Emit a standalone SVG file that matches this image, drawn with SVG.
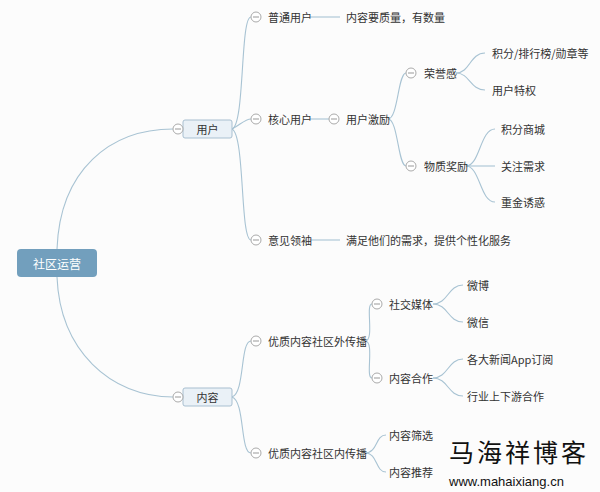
<svg xmlns="http://www.w3.org/2000/svg" width="600" height="492" viewBox="0 0 600 492">
<style>
text{font-family:"Noto Sans CJK SC","Liberation Sans",sans-serif;font-size:11px;fill:#333;dominant-baseline:central}
.c{fill:none;stroke:#a8c3d3;stroke-width:1.1}
.t circle{fill:#fff;stroke:#aaa;stroke-width:1}
.t line{stroke:#999;stroke-width:1}
.box{fill:#eaf1f7;stroke:#a8bfd0;stroke-width:1}
</style>
<defs>
<g id="tog" class="t"><circle r="5"/><line x1="-3" y1="0" x2="3" y2="0"/></g>
</defs>
<rect width="600" height="492" fill="#fcfcfc"/>
<g id="connectors">
<path class="c" d="M57 249 C60 170 110 129 173 129"/>
<path class="c" d="M57 277 C60 350 110 397 173 397"/>
<path class="c" d="M232 129 C245 125 240 17 251 17"/>
<path class="c" d="M232 129 C240 125 245 119 251 119"/>
<path class="c" d="M232 129 C245 135 240 240 251 240"/>
<path class="c" d="M310 17 H340"/>
<path class="c" d="M310 119 H329"/>
<path class="c" d="M310 240 H340"/>
<path class="c" d="M388 119 C398 119 398 73 406 73"/>
<path class="c" d="M388 119 C398 119 398 166 406 166"/>
<path class="c" d="M456 73 C470 73 470 53 485 53"/>
<path class="c" d="M456 73 C470 73 470 90 485 90"/>
<path class="c" d="M466 166 C480 166 480 129 495 129"/>
<path class="c" d="M466 166 H495"/>
<path class="c" d="M466 166 C480 166 480 202 495 202"/>
<path class="c" d="M232 397 C245 393 240 341 251 341"/>
<path class="c" d="M232 397 C245 401 240 453 251 453"/>
<path class="c" d="M365 341 C375 341 365 304 372 304"/>
<path class="c" d="M365 341 C375 341 365 378 372 378"/>
<path class="c" d="M433 304 C448 304 448 285 463 285"/>
<path class="c" d="M433 304 C448 304 448 322 463 322"/>
<path class="c" d="M433 378 C448 378 448 359 463 359"/>
<path class="c" d="M433 378 C448 378 448 396 463 396"/>
<path class="c" d="M365 453 C378 453 375 435 386 435"/>
<path class="c" d="M365 453 C378 453 375 472 386 472"/>
</g>
<g id="root"><rect x="17" y="249" width="80" height="28" rx="4" fill="#729fbd"/><text x="57" y="263" text-anchor="middle" style="fill:#fff;font-size:12px">社区运营</text></g>
<g id="yonghu"><rect class="box" x="183" y="120" width="49" height="18" rx="2"/><text x="207.5" y="129" text-anchor="middle">用户</text><use href="#tog" x="178" y="129"/></g>
<g id="neirong"><rect class="box" x="183" y="388" width="49" height="18" rx="2"/><text x="207.5" y="397" text-anchor="middle">内容</text><use href="#tog" x="178" y="397"/></g>
<g id="n1"><use href="#tog" x="256" y="17"/><text x="268" y="17">普通用户</text></g>
<g id="n2"><use href="#tog" x="256" y="119"/><text x="268" y="119">核心用户</text></g>
<g id="n3"><use href="#tog" x="256" y="240"/><text x="268" y="240">意见领袖</text></g>
<g id="n4"><text x="346" y="17">内容要质量，有数量</text></g>
<g id="n5"><use href="#tog" x="334" y="119"/><text x="346" y="119">用户激励</text></g>
<g id="n6"><text x="346" y="240">满足他们的需求，提供个性化服务</text></g>
<g id="n7"><use href="#tog" x="411" y="73"/><text x="424" y="73">荣誉感</text></g>
<g id="n8"><use href="#tog" x="411" y="166"/><text x="424" y="166">物质奖励</text></g>
<g id="n9"><text x="492" y="53">积分/排行榜/勋章等</text></g>
<g id="n10"><text x="492" y="90">用户特权</text></g>
<g id="n11"><text x="501" y="129">积分商城</text></g>
<g id="n12"><text x="501" y="166">关注需求</text></g>
<g id="n13"><text x="501" y="202">重金诱惑</text></g>
<g id="n14"><use href="#tog" x="256" y="341"/><text x="268" y="341">优质内容社区外传播</text></g>
<g id="n15"><use href="#tog" x="256" y="453"/><text x="268" y="453">优质内容社区内传播</text></g>
<g id="n16"><use href="#tog" x="377" y="304"/><text x="389" y="304">社交媒体</text></g>
<g id="n17"><use href="#tog" x="377" y="378"/><text x="389" y="378">内容合作</text></g>
<g id="n18"><text x="467" y="285">微博</text></g>
<g id="n19"><text x="467" y="322">微信</text></g>
<g id="n20"><text x="467" y="359">各大新闻App订阅</text></g>
<g id="n21"><text x="467" y="396">行业上下游合作</text></g>
<g id="n22"><text x="389" y="435">内容筛选</text></g>
<g id="n23"><text x="389" y="472">内容推荐</text></g>
<g id="watermark"><text x="449" y="451" style="font-size:25px;fill:#111;font-family:'Noto Sans CJK SC',serif;letter-spacing:3px">马海祥博客</text><text x="449" y="481" style="font-size:13px;fill:#111;font-family:'Liberation Sans',sans-serif">www.mahaixiang.cn</text></g>
</svg>
